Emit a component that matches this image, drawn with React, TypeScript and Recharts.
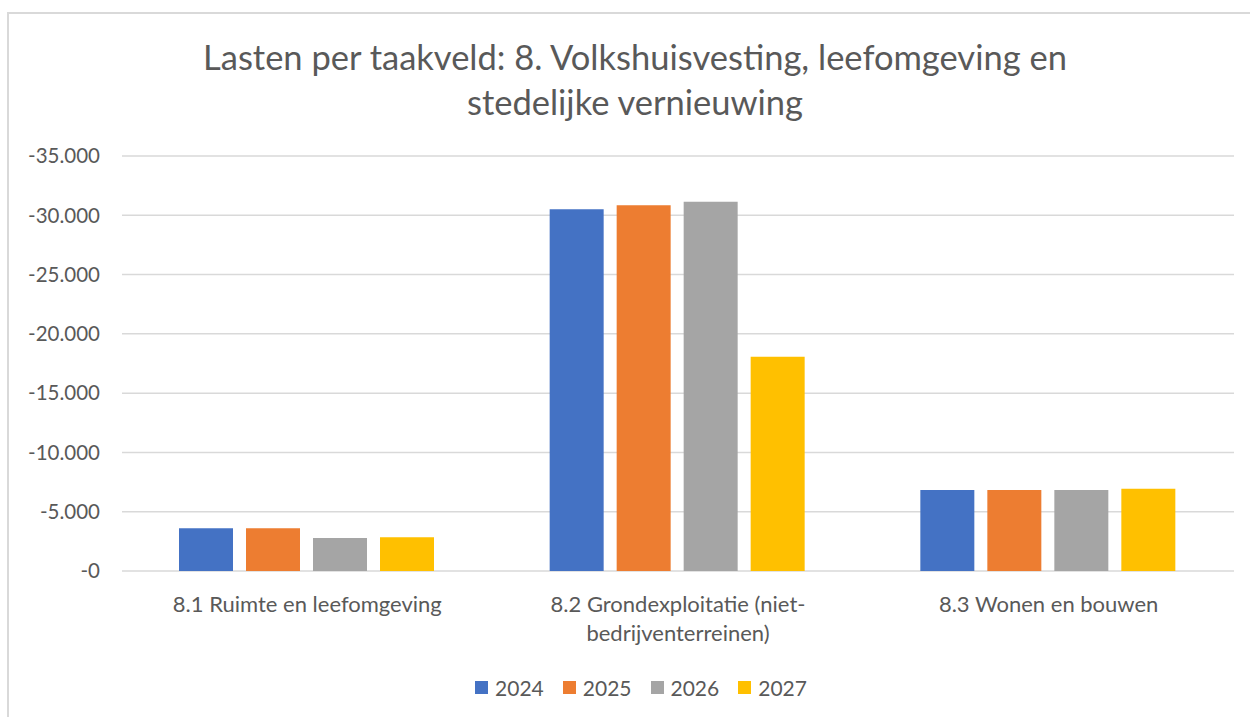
import React from 'react'
import { BarChart, Bar, XAxis, YAxis, CartesianGrid, Legend } from 'recharts'

const TITLE_LINES = ['Lasten per taakveld: 8. Volkshuisvesting, leefomgeving en', 'stedelijke vernieuwing']

const categories = [
  '8.1 Ruimte en leefomgeving',
  '8.2 Grondexploitatie (niet-bedrijventerreinen)',
  '8.3 Wonen en bouwen',
]

const years = ['2024', '2025', '2026', '2027']
const values2024 = [-3600, -30500, -6830]
const values2025 = [-3600, -30840, -6830]
const values2026 = [-2780, -31140, -6830]
const values2027 = [-2840, -18070, -6940]

const yTicks = [-35000, -30000, -25000, -20000, -15000, -10000, -5000, 0]

const COLORS = ['#4472C4', '#ED7D31', '#A5A5A5', '#FFC000']
const FONT = 'Lato, "Open Sans", sans-serif'
const TEXT = '#595959'

const data = categories.map((name, i) => ({
  name,
  '2024': values2024[i],
  '2025': values2025[i],
  '2026': values2026[i],
  '2027': values2027[i],
}))

// Excel style: -35.000 ... -0
const formatTick = (v: number) => '-' + String(Math.abs(v)).replace(/\B(?=(\d{3})+(?!\d))/g, '.')

// wrap a label on spaces / hyphens to a max number of characters
function wrap(label: string, max = 28) {
  const parts = label.match(/[^\s-]+-?|\s+/g) || [label]
  const lines: string[] = []
  let cur = ''
  parts.forEach((p) => {
    if ((cur + p).trimEnd().length > max && cur.trim()) {
      lines.push(cur.trim())
      cur = p.trimStart()
    } else {
      cur += p
    }
  })
  if (cur.trim()) lines.push(cur.trim())
  return lines
}

function CategoryTick(props: any) {
  const { x, y, payload } = props
  const lines = wrap(payload.value)
  return (
    <text x={x} y={y} textAnchor="middle" fill={TEXT} fontSize={22} fontFamily={FONT}>
      {lines.map((l, i) => (
        <tspan key={i} x={x} y={y + 41 + i * 29}>
          {l}
        </tspan>
      ))}
    </text>
  )
}

function LegendContent() {
  return (
    <div
      style={{
        height: 40,
        display: 'flex',
        justifyContent: 'center',
        alignItems: 'center',
        fontFamily: FONT,
        fontSize: 21,
        color: TEXT,
        paddingLeft: 48,
      }}
    >
      {years.map((y, i) => (
        <div key={y} style={{ display: 'flex', alignItems: 'center', marginLeft: i ? 19 : 0 }}>
          <span style={{ width: 13, height: 13, background: COLORS[i], display: 'inline-block', marginRight: 7 }} />
          <span>{y}</span>
        </div>
      ))}
    </div>
  )
}

export default function App() {
  return (
    <div style={{ position: 'absolute', left: 0, top: 0, width: 1250, height: 717, overflow: 'hidden', background: '#fff' }}>
      <div
        style={{
          position: 'absolute',
          left: 7,
          top: 12,
          width: 1300,
          height: 800,
          borderTop: '2px solid #d9d9d9',
          borderLeft: '2px solid #d9d9d9',
        }}
      />
      <div
        style={{
          position: 'absolute',
          left: 0,
          width: 1270,
          top: 34,
          textAlign: 'center',
          fontFamily: FONT,
          fontSize: 34.5,
          lineHeight: '45px',
          color: TEXT,
        }}
      >
        {TITLE_LINES.map((t) => (
          <div key={t}>{t}</div>
        ))}
      </div>
      <div style={{ position: 'absolute', left: 0, top: 0 }}>
        <BarChart
          width={1250}
          height={717}
          data={data}
          margin={{ top: 156, right: 16, bottom: 10, left: 0 }}
          barCategoryGap={57}
          barGap={13}
        >
          <CartesianGrid vertical={false} stroke="#d9d9d9" strokeWidth={1.5} />
          <XAxis
            dataKey="name"
            axisLine={false}
            tickLine={false}
            tickSize={0}
            tickMargin={0}
            height={96}
            interval={0}
            tick={<CategoryTick />}
          />
          <YAxis
            domain={[-35000, 0]}
            ticks={yTicks}
            reversed
            axisLine={false}
            tickLine={false}
            tickSize={0}
            tickMargin={22}
            width={122}
            tickFormatter={formatTick}
            tick={{ fill: TEXT, fontSize: 20.5, fontFamily: FONT }}
          />
          <Legend verticalAlign="bottom" height={40} content={<LegendContent />} />
          {years.map((y, i) => (
            <Bar key={y} dataKey={y} fill={COLORS[i]} isAnimationActive={false} />
          ))}
        </BarChart>
      </div>
    </div>
  )
}
